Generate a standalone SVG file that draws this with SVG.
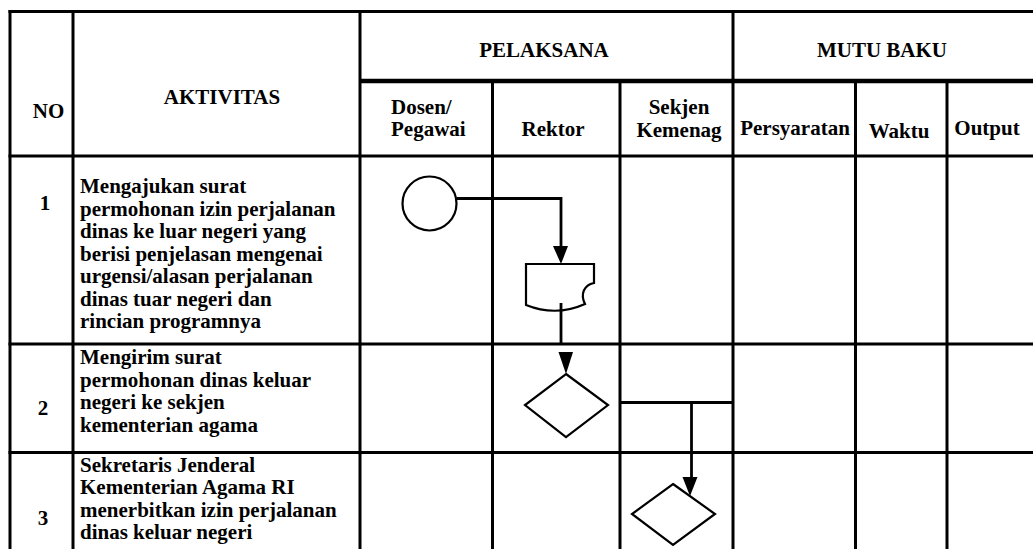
<svg xmlns="http://www.w3.org/2000/svg" width="1033" height="549" viewBox="0 0 1033 549">
<style>
.grid{stroke:#000;stroke-width:3;fill:none}
.thick{stroke:#000;stroke-width:4.5;fill:none}
.shape{stroke:#000;stroke-width:2.2;fill:#fff}
.conn{stroke:#000;stroke-width:2.8;fill:none}
.head{fill:#000}
text{font-family:"Liberation Serif","Times New Roman",serif;font-weight:bold;font-size:21px;fill:#000}
.c{text-anchor:middle}
</style>
<rect width="1033" height="549" fill="#fff"/>
<g id="table">
<line class="grid" x1="8.5" y1="11.5" x2="1033" y2="11.5"/>
<line class="grid" x1="10" y1="10" x2="10" y2="549"/>
<line class="grid" x1="73" y1="10" x2="73" y2="549"/>
<line class="grid" x1="360" y1="10" x2="360" y2="549"/>
<line class="grid" x1="733" y1="10" x2="733" y2="549"/>
<line class="thick" x1="360" y1="81" x2="1033" y2="81"/>
<line class="grid" x1="492.5" y1="81" x2="492.5" y2="549"/>
<line class="grid" x1="620" y1="81" x2="620" y2="549"/>
<line class="grid" x1="855.5" y1="81" x2="855.5" y2="549"/>
<line class="grid" x1="947" y1="81" x2="947" y2="549"/>
<line class="grid" x1="8.5" y1="156" x2="1033" y2="156"/>
<line class="grid" x1="8.5" y1="344" x2="1033" y2="344"/>
<line class="grid" x1="8.5" y1="452.5" x2="1033" y2="452.5"/>
</g>
<g id="headers">
<text class="c" x="48.5" y="118">NO</text>
<text class="c" x="222" y="104">AKTIVITAS</text>
<text class="c" x="544" y="57">PELAKSANA</text>
<text class="c" x="882" y="57">MUTU BAKU</text>
<text x="391" y="114">Dosen/</text>
<text x="391" y="136">Pegawai</text>
<text class="c" x="553" y="136">Rektor</text>
<text class="c" x="679" y="114">Sekjen</text>
<text class="c" x="679" y="137">Kemenag</text>
<text class="c" x="795" y="135">Persyaratan</text>
<text class="c" x="899" y="138">Waktu</text>
<text class="c" x="987" y="135">Output</text>
</g>
<g id="row1">
<text class="c" x="45" y="210">1</text>
<text x="80" y="193">Mengajukan surat</text>
<text x="80" y="215.5">permohonan izin perjalanan</text>
<text x="80" y="238">dinas ke luar negeri yang</text>
<text x="80" y="260.5">berisi penjelasan mengenai</text>
<text x="80" y="283">urgensi/alasan perjalanan</text>
<text x="80" y="305.5">dinas tuar negeri dan</text>
<text x="80" y="328">rincian programnya</text>
</g>
<g id="row2">
<text class="c" x="43" y="415">2</text>
<text x="80" y="364">Mengirim surat</text>
<text x="80" y="386.5">permohonan dinas keluar</text>
<text x="80" y="409">negeri ke sekjen</text>
<text x="80" y="431.5">kementerian agama</text>
</g>
<g id="row3">
<text class="c" x="43" y="525">3</text>
<text x="80" y="471.5">Sekretaris Jenderal</text>
<text x="80" y="494">Kementerian Agama RI</text>
<text x="80" y="516.5">menerbitkan izin perjalanan</text>
<text x="80" y="539">dinas keluar negeri</text>
</g>
<g id="start">
<circle class="shape" cx="429.5" cy="203.5" r="27"/>
</g>
<g id="document">
<path class="shape" d="M526,264 L594,264 L594,283 C584,285 580,294 585,304 Q556,317 526,305 Z"/>
</g>
<g id="decision-rektor">
<path class="shape" d="M566,374 L608,405 L566,437 L525,405 Z"/>
</g>
<g id="decision-sekjen">
<path class="shape" d="M673,484 L715,514 L673,545 L632,514 Z"/>
</g>
<g id="connectors">
<polyline class="conn" points="457,198.5 561,198.5 561,250"/>
<path class="head" d="M553,246 L568,246 L561,264 Z"/>
<line class="conn" x1="561" y1="303" x2="561" y2="344"/>
<path class="head" d="M558.5,352 L573,352 L566,374 Z"/>
<line class="conn" x1="620" y1="402.5" x2="733" y2="402.5"/>
<line class="conn" x1="691.5" y1="402.5" x2="691.5" y2="480"/>
<path class="head" d="M682.5,477 L697.5,477 L690,496 Z"/>
</g>
</svg>
